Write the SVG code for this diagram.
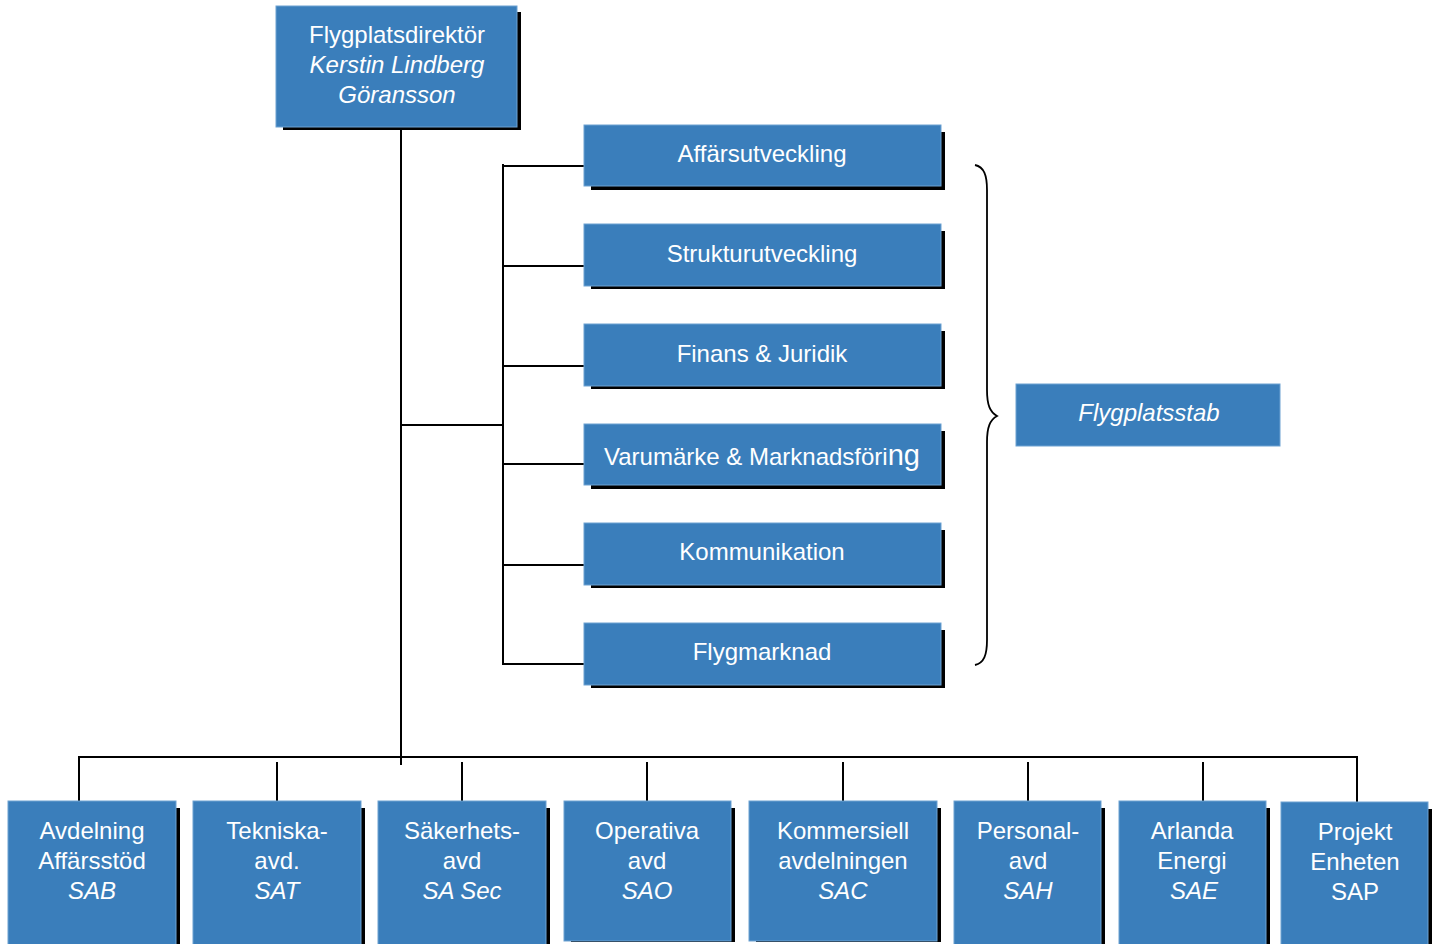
<svg xmlns="http://www.w3.org/2000/svg" width="1436" height="944" viewBox="0 0 1436 944">
<style>
.box{fill:#3a7ebb;stroke:#6da2d2;stroke-width:1}
.sh{fill:#000}
.t{font-family:"Liberation Sans",Arial,sans-serif;font-size:24px;fill:#fff;text-anchor:middle}
.i{font-style:italic}
.ln{stroke:#000;stroke-width:2;fill:none}
</style>
<rect width="1436" height="944" fill="#fff"/>
<g id="connectors">
<path class="ln" d="M401 127V765M401 425H503M503 164V665M503 166H586M503 266H586M503 366H586M503 464H586M503 565H586M503 664H586"/>
<path class="ln" d="M79 757H1357M79 756V803M1357 756V804M277 762V802M462 762V802M647 762V802M843 762V802M1028 762V802M1203 762V802"/>
<path stroke="#000" stroke-width="1.8" fill="none" d="M975 165C984 167 987 175 987 190V390C987 405 990 412 997 416C990 420 987 427 987 442V640C987 655 984 663 975 665"/>
</g>
<g id="n-director">
<rect class="sh" x="283" y="12" width="238" height="118"/>
<rect class="box" x="276" y="6" width="241" height="121"/>
<text class="t" x="397" y="43">Flygplatsdirektör</text>
<text class="t i" x="397" y="73">Kerstin Lindberg</text>
<text class="t i" x="397" y="103">Göransson</text>
</g>
<g id="n-affar">
<rect class="sh" x="591" y="132" width="354" height="58"/>
<rect class="box" x="584" y="125" width="357" height="61"/>
<text class="t" x="762" y="162">Affärsutveckling</text>
</g>
<g id="n-struktur">
<rect class="sh" x="591" y="231" width="354" height="58"/>
<rect class="box" x="584" y="224" width="357" height="62"/>
<text class="t" x="762" y="262">Strukturutveckling</text>
</g>
<g id="n-finans">
<rect class="sh" x="591" y="331" width="354" height="58"/>
<rect class="box" x="584" y="324" width="357" height="62"/>
<text class="t" x="762" y="362">Finans &amp; Juridik</text>
</g>
<g id="n-varumarke">
<rect class="sh" x="591" y="431" width="354" height="58"/>
<rect class="box" x="584" y="424" width="357" height="61"/>
<text class="t" x="762" y="465">Varumärke &amp; Marknadsföri<tspan font-size="29">ng</tspan></text>
</g>
<g id="n-kommunikation">
<rect class="sh" x="591" y="530" width="354" height="58"/>
<rect class="box" x="584" y="523" width="357" height="62"/>
<text class="t" x="762" y="560">Kommunikation</text>
</g>
<g id="n-flygmarknad">
<rect class="sh" x="591" y="630" width="354" height="58"/>
<rect class="box" x="584" y="623" width="357" height="62"/>
<text class="t" x="762" y="660">Flygmarknad</text>
</g>
<g id="n-stab">
<rect class="box" x="1016" y="384" width="264" height="62"/>
<text class="t i" x="1149" y="421">Flygplatsstab</text>
</g>
<g id="n-sab">
<rect class="sh" x="15" y="808" width="165" height="140"/>
<rect class="box" x="8" y="801" width="168" height="150"/>
<text class="t" x="92" y="839">Avdelning</text>
<text class="t" x="92" y="869">Affärsstöd</text>
<text class="t i" x="92" y="899">SAB</text>
</g>
<g id="n-sat">
<rect class="sh" x="200" y="808" width="165" height="140"/>
<rect class="box" x="193" y="801" width="168" height="150"/>
<text class="t" x="277" y="839">Tekniska-</text>
<text class="t" x="277" y="869">avd.</text>
<text class="t i" x="277" y="899">SAT</text>
</g>
<g id="n-sasec">
<rect class="sh" x="385" y="808" width="165" height="140"/>
<rect class="box" x="378" y="801" width="168" height="150"/>
<text class="t" x="462" y="839">Säkerhets-</text>
<text class="t" x="462" y="869">avd</text>
<text class="t i" x="462" y="899">SA Sec</text>
</g>
<g id="n-sao">
<rect class="sh" x="571" y="808" width="164" height="134"/>
<rect class="box" x="564" y="801" width="167" height="140"/>
<text class="t" x="647" y="839">Operativa</text>
<text class="t" x="647" y="869">avd</text>
<text class="t i" x="647" y="899">SAO</text>
</g>
<g id="n-sac">
<rect class="sh" x="756" y="808" width="185" height="134"/>
<rect class="box" x="749" y="801" width="188" height="140"/>
<text class="t" x="843" y="839">Kommersiell</text>
<text class="t" x="843" y="869">avdelningen</text>
<text class="t i" x="843" y="899">SAC</text>
</g>
<g id="n-sah">
<rect class="sh" x="961" y="808" width="144" height="140"/>
<rect class="box" x="954" y="801" width="147" height="150"/>
<text class="t" x="1028" y="839">Personal-</text>
<text class="t" x="1028" y="869">avd</text>
<text class="t i" x="1028" y="899">SAH</text>
</g>
<g id="n-sae">
<rect class="sh" x="1126" y="808" width="144" height="140"/>
<rect class="box" x="1119" y="801" width="147" height="150"/>
<text class="t" x="1192" y="839">Arlanda</text>
<text class="t" x="1192" y="869">Energi</text>
<text class="t i" x="1194" y="899">SAE</text>
</g>
<g id="n-sap">
<rect class="sh" x="1288" y="809" width="144" height="140"/>
<rect class="box" x="1281" y="802" width="147" height="150"/>
<text class="t" x="1355" y="840">Projekt</text>
<text class="t" x="1355" y="870">Enheten</text>
<text class="t" x="1355" y="900">SAP</text>
</g>
</svg>
